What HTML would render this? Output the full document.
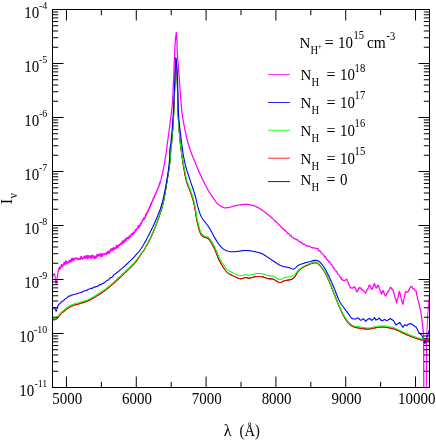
<!DOCTYPE html>
<html><head><meta charset="utf-8"><title>plot</title>
<style>html,body{margin:0;padding:0;background:#fff;}svg{display:block;}text{font-family:"Liberation Serif", serif;fill:#000;}</style>
</head><body>
<svg width="436" height="440" viewBox="0 0 436 440" style="will-change:transform">
<rect x="0" y="0" width="436" height="440" fill="#ffffff"/>
<g clip-path="url(#clip)">
<defs><clipPath id="clip"><rect x="52.50" y="9.50" width="377.00" height="378.00"/></clipPath></defs>
<polyline points="52.75,319.60 53.58,319.70 54.79,319.75 56.20,319.20 56.83,318.66 57.47,317.97 58.14,317.14 58.87,316.24 59.65,315.29 60.53,314.33 61.50,313.40 62.18,312.81 62.92,312.17 63.71,311.51 64.53,310.84 65.37,310.16 66.24,309.49 67.12,308.84 68.01,308.21 68.89,307.62 69.75,307.08 70.60,306.60 71.62,306.10 72.64,305.68 73.66,305.33 74.68,305.02 75.71,304.74 76.73,304.47 77.75,304.21 78.78,303.92 79.80,303.60 80.82,303.26 81.84,302.94 82.87,302.63 83.89,302.31 84.91,301.98 85.93,301.63 86.96,301.26 87.98,300.85 89.00,300.40 89.92,299.96 90.84,299.49 91.76,299.00 92.68,298.48 93.61,297.94 94.53,297.39 95.45,296.83 96.37,296.26 97.28,295.68 98.20,295.10 99.03,294.57 99.86,294.04 100.69,293.50 101.51,292.95 102.34,292.40 103.16,291.83 103.99,291.26 104.81,290.67 105.64,290.06 106.47,289.44 107.30,288.80 108.06,288.19 108.83,287.57 109.59,286.93 110.36,286.28 111.13,285.62 111.89,284.94 112.66,284.26 113.43,283.57 114.20,282.88 114.97,282.19 115.73,281.49 116.50,280.80 117.27,280.11 118.03,279.41 118.80,278.71 119.57,278.00 120.33,277.29 121.10,276.57 121.87,275.86 122.63,275.13 123.40,274.41 124.17,273.68 124.93,272.94 125.70,272.20 126.41,271.51 127.14,270.82 127.87,270.13 128.61,269.43 129.35,268.73 130.08,268.02 130.81,267.31 131.54,266.60 132.25,265.89 132.94,265.17 133.62,264.45 134.27,263.73 134.90,263.00 135.63,262.11 136.34,261.18 137.05,260.21 137.74,259.23 138.41,258.25 139.05,257.29 139.66,256.36 140.23,255.48 140.77,254.67 141.26,253.94 141.70,253.30 142.62,252.17 143.04,251.77 144.00,250.20 144.34,249.60 144.72,248.92 145.14,248.18 145.59,247.37 146.07,246.50 146.58,245.59 147.09,244.64 147.62,243.66 148.16,242.66 148.69,241.64 149.22,240.62 149.75,239.59 150.25,238.57 150.74,237.57 151.20,236.60 151.62,235.70 152.03,234.79 152.43,233.88 152.83,232.97 153.23,232.05 153.62,231.12 154.01,230.19 154.40,229.25 154.78,228.30 155.16,227.35 155.54,226.38 155.92,225.41 156.29,224.42 156.66,223.43 157.03,222.42 157.40,221.40 157.73,220.49 158.05,219.59 158.38,218.69 158.71,217.80 159.03,216.90 159.35,216.00 159.67,215.09 159.99,214.16 160.31,213.23 160.62,212.28 160.93,211.31 161.24,210.33 161.54,209.31 161.84,208.27 162.14,207.21 162.43,206.11 162.72,204.97 163.00,203.80 163.20,202.92 163.40,202.02 163.60,201.08 163.80,200.11 164.00,199.12 164.20,198.11 164.39,197.08 164.59,196.03 164.78,194.97 164.97,193.90 165.16,192.82 165.35,191.74 165.53,190.65 165.71,189.57 165.89,188.49 166.07,187.41 166.24,186.35 166.41,185.29 166.58,184.26 166.74,183.24 166.90,182.24 167.06,181.26 167.21,180.31 167.36,179.39 167.50,178.50 167.69,177.30 167.88,176.11 168.07,174.95 168.24,173.81 168.41,172.68 168.58,171.58 168.74,170.50 168.89,169.44 169.04,168.41 169.18,167.39 169.31,166.40 169.44,165.44 169.57,164.50 169.69,163.59 169.80,162.70 169.90,161.84 170.01,161.01 170.10,160.20 170.25,158.85 170.36,157.64 170.44,156.54 170.50,155.53 170.54,154.58 170.58,153.68 170.62,152.79 170.66,151.90 170.72,150.98 170.80,150.00 170.89,149.06 170.98,148.23 171.08,147.46 171.18,146.71 171.29,145.93 171.40,145.07 171.51,144.10 171.64,142.96 171.76,141.61 171.90,140.00 171.96,139.28 172.02,138.54 172.08,137.76 172.14,136.95 172.21,136.12 172.27,135.26 172.34,134.37 172.41,133.46 172.48,132.52 172.55,131.56 172.62,130.58 172.70,129.57 172.77,128.55 172.84,127.50 172.91,126.44 172.99,125.36 173.06,124.26 173.13,123.15 173.20,122.02 173.27,120.88 173.34,119.73 173.41,118.56 173.47,117.38 173.54,116.20 173.60,115.00 173.64,114.13 173.69,113.23 173.73,112.31 173.78,111.37 173.82,110.40 173.86,109.42 173.91,108.42 173.95,107.40 173.99,106.37 174.04,105.32 174.08,104.26 174.12,103.20 174.16,102.13 174.21,101.05 174.25,99.97 174.29,98.88 174.33,97.79 174.37,96.71 174.41,95.62 174.45,94.55 174.49,93.47 174.53,92.41 174.57,91.35 174.61,90.30 174.65,89.27 174.68,88.25 174.72,87.25 174.76,86.26 174.79,85.30 174.83,84.35 174.86,83.43 174.90,82.53 174.93,81.66 174.97,80.82 175.00,80.00 175.05,78.65 175.10,77.28 175.15,75.90 175.20,74.51 175.24,73.13 175.28,71.76 175.32,70.41 175.36,69.09 175.40,67.82 175.44,66.59 175.47,65.42 175.51,64.33 175.55,63.31 175.59,62.37 175.63,61.53 175.67,60.80 175.71,60.17 175.75,59.67 175.80,59.31 175.85,59.08 175.90,59.00 175.95,59.08 176.01,59.31 176.07,59.67 176.13,60.17 176.19,60.80 176.25,61.53 176.31,62.37 176.38,63.31 176.44,64.33 176.51,65.42 176.58,66.59 176.64,67.82 176.71,69.09 176.77,70.41 176.84,71.76 176.90,73.13 176.97,74.51 177.03,75.90 177.09,77.28 177.14,78.65 177.20,80.00 177.23,80.82 177.26,81.66 177.29,82.53 177.32,83.43 177.35,84.35 177.38,85.30 177.41,86.26 177.43,87.25 177.46,88.25 177.48,89.27 177.51,90.30 177.53,91.35 177.56,92.41 177.58,93.47 177.61,94.55 177.63,95.62 177.66,96.71 177.68,97.79 177.71,98.88 177.73,99.97 177.76,101.05 177.78,102.13 177.81,103.20 177.84,104.26 177.86,105.32 177.89,106.37 177.92,107.40 177.95,108.42 177.99,109.42 178.02,110.40 178.05,111.37 178.09,112.31 178.12,113.23 178.16,114.13 178.20,115.00 178.26,116.20 178.32,117.38 178.38,118.56 178.45,119.73 178.52,120.88 178.59,122.02 178.66,123.15 178.74,124.26 178.81,125.36 178.89,126.44 178.97,127.50 179.05,128.55 179.13,129.57 179.21,130.58 179.28,131.56 179.36,132.52 179.44,133.46 179.52,134.37 179.59,135.26 179.67,136.12 179.74,136.95 179.81,137.76 179.87,138.54 179.94,139.28 180.00,140.00 180.15,141.63 180.29,143.04 180.42,144.26 180.55,145.32 180.67,146.24 180.79,147.07 180.90,147.83 181.01,148.55 181.11,149.27 181.20,150.00 181.33,151.20 181.41,151.98 181.48,152.68 181.59,153.61 181.80,155.10 181.91,155.87 182.04,156.73 182.18,157.68 182.33,158.69 182.49,159.75 182.66,160.86 182.84,162.00 183.02,163.15 183.20,164.30 183.39,165.45 183.58,166.57 183.77,167.66 183.95,168.70 184.14,169.79 184.33,170.86 184.51,171.91 184.69,172.96 184.88,174.00 185.07,175.04 185.27,176.08 185.49,177.12 185.72,178.17 185.97,179.23 186.25,180.31 186.55,181.40 186.84,182.36 187.16,183.34 187.50,184.33 187.86,185.34 188.24,186.36 188.63,187.38 189.03,188.40 189.42,189.42 189.81,190.43 190.20,191.42 190.57,192.40 190.92,193.36 191.25,194.29 191.55,195.20 191.90,196.30 192.23,197.34 192.53,198.35 192.82,199.32 193.09,200.27 193.35,201.22 193.59,202.17 193.84,203.14 194.07,204.15 194.31,205.20 194.55,206.30 194.73,207.21 194.90,208.14 195.07,209.11 195.22,210.09 195.37,211.09 195.52,212.10 195.66,213.12 195.81,214.14 195.96,215.17 196.12,216.20 196.28,217.22 196.46,218.23 196.65,219.22 196.85,220.20 197.08,221.26 197.33,222.36 197.59,223.49 197.86,224.62 198.13,225.76 198.41,226.88 198.70,227.98 198.99,229.04 199.28,230.05 199.58,231.01 199.87,231.89 200.16,232.69 200.45,233.40 201.20,234.80 201.96,235.72 202.72,236.31 203.49,236.75 204.25,237.20 205.19,237.58 206.11,237.69 207.06,237.88 208.05,238.50 208.65,239.13 209.29,239.90 209.94,240.79 210.60,241.76 211.24,242.77 211.86,243.79 212.45,244.80 212.93,245.67 213.38,246.55 213.82,247.45 214.24,248.37 214.66,249.31 215.08,250.27 215.51,251.26 215.95,252.27 216.34,253.20 216.70,254.14 217.05,255.10 217.41,256.08 217.78,257.07 218.18,258.09 218.61,259.12 219.10,260.18 219.65,261.25 220.11,262.09 220.62,262.98 221.15,263.91 221.72,264.86 222.31,265.82 222.91,266.78 223.53,267.73 224.14,268.64 224.75,269.51 225.35,270.31 225.94,271.05 226.50,271.70 227.42,272.62 228.30,273.34 229.17,273.92 230.04,274.39 230.92,274.82 231.84,275.24 232.80,275.70 233.70,276.15 234.67,276.62 235.66,277.08 236.68,277.52 237.68,277.93 238.65,278.27 239.56,278.53 240.40,278.70 241.60,278.70 242.69,278.43 243.68,278.04 244.61,277.69 245.50,277.50 246.74,277.67 247.83,278.06 249.20,278.20 250.10,278.06 251.10,277.81 252.18,277.49 253.30,277.17 254.41,276.89 255.50,276.70 256.56,276.59 257.63,276.51 258.70,276.48 259.77,276.50 260.84,276.57 261.90,276.70 262.97,276.93 264.06,277.27 265.14,277.67 266.20,278.07 267.23,278.43 268.20,278.70 269.26,278.85 270.23,278.87 271.17,278.87 272.14,278.94 273.20,279.20 274.04,279.57 274.94,280.09 275.87,280.69 276.82,281.30 277.75,281.85 278.65,282.27 279.50,282.50 280.58,282.46 281.56,282.12 282.52,281.62 283.52,281.10 284.60,280.70 285.63,280.48 286.74,280.30 287.90,280.14 289.03,279.97 290.09,279.76 291.00,279.50 292.08,279.05 292.93,278.55 293.69,277.92 294.50,277.08 295.08,276.34 295.67,275.45 296.25,274.49 296.83,273.51 297.42,272.58 298.00,271.77 298.87,270.77 299.74,269.89 300.62,269.11 301.50,268.40 302.36,267.79 303.20,267.28 304.09,266.81 305.10,266.30 306.03,265.84 307.04,265.35 308.10,264.86 309.16,264.40 310.20,264.00 311.23,263.62 312.26,263.24 313.29,262.93 314.28,262.73 315.20,262.70 316.20,262.89 317.09,263.27 317.99,263.90 319.00,264.80 319.58,265.36 320.19,265.99 320.82,266.69 321.48,267.45 322.14,268.27 322.80,269.16 323.46,270.10 324.10,271.10 324.56,271.87 325.02,272.67 325.47,273.51 325.93,274.39 326.38,275.29 326.83,276.23 327.29,277.18 327.74,278.16 328.19,279.16 328.65,280.17 329.10,281.20 329.48,282.09 329.87,283.00 330.25,283.94 330.64,284.89 331.02,285.86 331.40,286.85 331.79,287.84 332.17,288.84 332.55,289.84 332.94,290.84 333.33,291.84 333.71,292.82 334.10,293.80 334.49,294.77 334.88,295.76 335.27,296.75 335.67,297.74 336.06,298.74 336.45,299.73 336.85,300.72 337.24,301.70 337.63,302.67 338.03,303.63 338.42,304.57 338.81,305.50 339.20,306.40 339.66,307.45 340.11,308.49 340.57,309.52 341.02,310.54 341.47,311.53 341.93,312.51 342.38,313.46 342.83,314.38 343.29,315.28 343.74,316.13 344.20,316.95 344.83,318.02 345.47,319.04 346.11,320.01 346.75,320.92 347.39,321.77 348.03,322.56 348.67,323.29 349.30,323.95 350.29,324.85 351.24,325.56 352.21,326.13 353.22,326.61 354.30,327.05 355.26,327.36 356.26,327.61 357.29,327.79 358.36,327.95 359.46,328.10 360.60,328.25 361.62,328.40 362.68,328.57 363.77,328.73 364.87,328.88 365.99,328.99 367.10,329.05 368.20,329.05 369.29,328.97 370.37,328.81 371.46,328.61 372.55,328.38 373.64,328.14 374.72,327.92 375.80,327.75 376.88,327.60 377.95,327.45 379.02,327.31 380.08,327.19 381.15,327.09 382.22,327.05 383.30,327.05 384.40,327.12 385.54,327.25 386.68,327.42 387.81,327.62 388.91,327.83 389.94,328.05 390.90,328.25 392.01,328.49 392.92,328.69 393.78,328.93 394.76,329.27 396.00,329.75 396.75,330.07 397.58,330.44 398.46,330.85 399.39,331.30 400.35,331.76 401.33,332.24 402.32,332.72 403.30,333.18 404.27,333.63 405.20,334.05 406.21,334.49 407.23,334.93 408.24,335.37 409.25,335.80 410.25,336.21 411.26,336.62 412.27,337.01 413.29,337.39 414.30,337.75 415.33,338.10 416.37,338.45 417.42,338.78 418.48,339.11 419.52,339.41 420.56,339.69 421.57,339.95 422.55,340.17 423.50,340.35 424.73,340.52 425.99,340.61 427.23,340.66 428.40,340.66 429.45,340.65 430.34,340.64 431.00,340.65" fill="none" stroke="#000000" stroke-width="1.00" stroke-linejoin="round" stroke-linecap="butt" />
<polyline points="52.75,319.60 53.58,319.70 54.79,319.75 56.20,319.20 56.83,318.66 57.47,317.97 58.14,317.14 58.87,316.24 59.65,315.29 60.53,314.33 61.50,313.40 62.18,312.81 62.92,312.17 63.71,311.51 64.53,310.84 65.37,310.16 66.24,309.49 67.12,308.84 68.01,308.21 68.89,307.62 69.75,307.08 70.60,306.60 71.62,306.10 72.64,305.68 73.66,305.33 74.68,305.02 75.71,304.74 76.73,304.47 77.75,304.21 78.78,303.92 79.80,303.60 80.82,303.26 81.84,302.94 82.87,302.63 83.89,302.31 84.91,301.98 85.93,301.63 86.96,301.26 87.98,300.85 89.00,300.40 89.92,299.96 90.84,299.49 91.76,299.00 92.68,298.48 93.61,297.94 94.53,297.39 95.45,296.83 96.37,296.26 97.28,295.68 98.20,295.10 99.03,294.57 99.86,294.04 100.69,293.50 101.51,292.95 102.34,292.40 103.16,291.83 103.99,291.26 104.81,290.67 105.64,290.06 106.47,289.44 107.30,288.80 108.06,288.19 108.83,287.57 109.59,286.93 110.36,286.28 111.13,285.62 111.89,284.94 112.66,284.26 113.43,283.57 114.20,282.88 114.97,282.19 115.73,281.49 116.50,280.80 117.27,280.11 118.03,279.41 118.80,278.71 119.57,278.00 120.33,277.29 121.10,276.57 121.87,275.86 122.63,275.13 123.40,274.41 124.17,273.68 124.93,272.94 125.70,272.20 126.41,271.51 127.14,270.82 127.87,270.13 128.61,269.43 129.35,268.73 130.08,268.02 130.81,267.31 131.54,266.60 132.25,265.89 132.94,265.17 133.62,264.45 134.27,263.73 134.90,263.00 135.63,262.11 136.34,261.18 137.05,260.21 137.74,259.23 138.41,258.25 139.05,257.29 139.66,256.36 140.23,255.48 140.77,254.67 141.26,253.94 141.70,253.30 142.62,252.17 143.04,251.77 144.00,250.20 144.34,249.60 144.72,248.92 145.14,248.18 145.59,247.37 146.07,246.50 146.58,245.59 147.09,244.64 147.62,243.66 148.16,242.66 148.69,241.64 149.22,240.62 149.75,239.59 150.25,238.57 150.74,237.57 151.20,236.60 151.62,235.70 152.03,234.79 152.43,233.88 152.83,232.97 153.23,232.05 153.62,231.12 154.01,230.19 154.40,229.25 154.78,228.30 155.16,227.35 155.54,226.38 155.92,225.41 156.29,224.42 156.66,223.43 157.03,222.42 157.40,221.40 157.73,220.49 158.05,219.59 158.38,218.69 158.71,217.80 159.03,216.90 159.35,216.00 159.67,215.09 159.99,214.16 160.31,213.23 160.62,212.28 160.93,211.31 161.24,210.33 161.54,209.31 161.84,208.27 162.14,207.21 162.43,206.11 162.72,204.97 163.00,203.80 163.20,202.92 163.40,202.02 163.60,201.08 163.80,200.11 164.00,199.12 164.20,198.11 164.39,197.08 164.59,196.03 164.78,194.97 164.97,193.90 165.16,192.82 165.35,191.74 165.53,190.65 165.71,189.57 165.89,188.49 166.07,187.41 166.24,186.35 166.41,185.29 166.58,184.26 166.74,183.24 166.90,182.24 167.06,181.26 167.21,180.31 167.36,179.39 167.50,178.50 167.69,177.30 167.88,176.11 168.07,174.95 168.24,173.81 168.41,172.68 168.58,171.58 168.74,170.50 168.89,169.44 169.04,168.41 169.18,167.39 169.31,166.40 169.44,165.44 169.57,164.50 169.69,163.59 169.80,162.70 169.90,161.84 170.01,161.01 170.10,160.20 170.25,158.85 170.36,157.64 170.44,156.54 170.50,155.53 170.54,154.58 170.58,153.68 170.62,152.79 170.66,151.90 170.72,150.98 170.80,150.00 170.89,149.06 170.98,148.23 171.08,147.46 171.18,146.71 171.29,145.93 171.40,145.07 171.51,144.10 171.64,142.96 171.76,141.61 171.90,140.00 171.96,139.28 172.02,138.54 172.08,137.76 172.14,136.95 172.21,136.12 172.27,135.26 172.34,134.37 172.41,133.46 172.48,132.52 172.55,131.56 172.62,130.58 172.70,129.57 172.77,128.55 172.84,127.50 172.91,126.44 172.99,125.36 173.06,124.26 173.13,123.15 173.20,122.02 173.27,120.88 173.34,119.73 173.41,118.56 173.47,117.38 173.54,116.20 173.60,115.00 173.64,114.13 173.69,113.23 173.73,112.31 173.78,111.37 173.82,110.40 173.86,109.42 173.91,108.42 173.95,107.40 173.99,106.37 174.04,105.32 174.08,104.26 174.12,103.20 174.16,102.13 174.21,101.05 174.25,99.97 174.29,98.88 174.33,97.79 174.37,96.71 174.41,95.62 174.45,94.55 174.49,93.47 174.53,92.41 174.57,91.35 174.61,90.30 174.65,89.27 174.68,88.25 174.72,87.25 174.76,86.26 174.79,85.30 174.83,84.35 174.86,83.43 174.90,82.53 174.93,81.66 174.97,80.82 175.00,80.00 175.05,78.65 175.10,77.28 175.15,75.90 175.20,74.51 175.24,73.13 175.28,71.76 175.32,70.41 175.36,69.09 175.40,67.82 175.44,66.59 175.47,65.42 175.51,64.33 175.55,63.31 175.59,62.37 175.63,61.53 175.67,60.80 175.71,60.17 175.75,59.67 175.80,59.31 175.85,59.08 175.90,59.00 175.95,59.08 176.01,59.31 176.07,59.67 176.13,60.17 176.19,60.80 176.25,61.53 176.31,62.37 176.38,63.31 176.44,64.33 176.51,65.42 176.58,66.59 176.64,67.82 176.71,69.09 176.77,70.41 176.84,71.76 176.90,73.13 176.97,74.51 177.03,75.90 177.09,77.28 177.14,78.65 177.20,80.00 177.23,80.82 177.26,81.66 177.29,82.53 177.32,83.43 177.35,84.35 177.38,85.30 177.41,86.26 177.43,87.25 177.46,88.25 177.48,89.27 177.51,90.30 177.53,91.35 177.56,92.41 177.58,93.47 177.61,94.55 177.63,95.62 177.66,96.71 177.68,97.79 177.71,98.88 177.73,99.97 177.76,101.05 177.78,102.13 177.81,103.20 177.84,104.26 177.86,105.32 177.89,106.37 177.92,107.40 177.95,108.42 177.99,109.42 178.02,110.40 178.05,111.37 178.09,112.31 178.12,113.23 178.16,114.13 178.20,115.00 178.26,116.20 178.32,117.38 178.38,118.56 178.45,119.73 178.52,120.88 178.59,122.02 178.66,123.15 178.74,124.26 178.81,125.36 178.89,126.44 178.97,127.50 179.05,128.55 179.13,129.57 179.21,130.58 179.28,131.56 179.36,132.52 179.44,133.46 179.52,134.37 179.59,135.26 179.67,136.12 179.74,136.95 179.81,137.76 179.87,138.54 179.94,139.28 180.00,140.00 180.15,141.63 180.29,143.04 180.42,144.26 180.55,145.32 180.67,146.24 180.79,147.07 180.90,147.83 181.01,148.55 181.11,149.27 181.20,150.00 181.33,151.20 181.41,151.98 181.48,152.68 181.59,153.61 181.80,155.10 181.91,155.87 182.04,156.73 182.18,157.68 182.33,158.69 182.49,159.75 182.66,160.86 182.84,162.00 183.02,163.15 183.20,164.30 183.39,165.45 183.58,166.57 183.77,167.66 183.95,168.70 184.14,169.79 184.33,170.86 184.51,171.91 184.69,172.96 184.88,174.00 185.07,175.04 185.27,176.08 185.49,177.12 185.72,178.17 185.97,179.23 186.25,180.31 186.55,181.40 186.84,182.36 187.16,183.34 187.50,184.33 187.86,185.34 188.24,186.36 188.63,187.38 189.03,188.40 189.42,189.42 189.81,190.43 190.20,191.42 190.57,192.40 190.92,193.36 191.25,194.29 191.55,195.20 191.90,196.30 192.23,197.34 192.53,198.35 192.82,199.32 193.09,200.27 193.35,201.22 193.59,202.17 193.84,203.14 194.07,204.15 194.31,205.20 194.55,206.30 194.73,207.21 194.90,208.14 195.07,209.11 195.22,210.09 195.37,211.09 195.52,212.10 195.66,213.12 195.81,214.14 195.96,215.17 196.12,216.20 196.28,217.22 196.46,218.23 196.65,219.22 196.85,220.20 197.08,221.26 197.33,222.36 197.59,223.49 197.86,224.62 198.13,225.76 198.41,226.88 198.70,227.98 198.99,229.04 199.28,230.05 199.58,231.01 199.87,231.89 200.16,232.69 200.45,233.40 201.20,234.80 201.96,235.72 202.72,236.31 203.49,236.75 204.25,237.20 205.19,237.58 206.11,237.69 207.06,237.88 208.05,238.50 208.65,239.13 209.29,239.90 209.94,240.79 210.60,241.76 211.24,242.77 211.86,243.79 212.45,244.80 212.93,245.67 213.38,246.55 213.82,247.45 214.24,248.37 214.66,249.31 215.08,250.27 215.51,251.26 215.95,252.27 216.34,253.20 216.70,254.14 217.05,255.10 217.41,256.08 217.78,257.07 218.18,258.09 218.61,259.12 219.10,260.18 219.65,261.25 220.11,262.09 220.62,262.98 221.15,263.91 221.72,264.86 222.31,265.82 222.91,266.78 223.53,267.73 224.14,268.64 224.75,269.51 225.35,270.31 225.94,271.05 226.50,271.70 227.42,272.62 228.30,273.34 229.17,273.92 230.04,274.39 230.92,274.82 231.84,275.24 232.80,275.70 233.70,276.15 234.67,276.62 235.66,277.08 236.68,277.52 237.68,277.93 238.65,278.27 239.56,278.53 240.40,278.70 241.60,278.70 242.69,278.43 243.68,278.04 244.61,277.69 245.50,277.50 246.74,277.67 247.83,278.06 249.20,278.20 250.10,278.06 251.10,277.81 252.18,277.49 253.30,277.17 254.41,276.89 255.50,276.70 256.56,276.59 257.63,276.51 258.70,276.48 259.77,276.50 260.84,276.57 261.90,276.70 262.97,276.93 264.06,277.27 265.14,277.67 266.20,278.07 267.23,278.43 268.20,278.70 269.26,278.85 270.23,278.87 271.17,278.87 272.14,278.94 273.20,279.20 274.04,279.57 274.94,280.09 275.87,280.69 276.82,281.30 277.75,281.85 278.65,282.27 279.50,282.50 280.58,282.46 281.56,282.12 282.52,281.62 283.52,281.10 284.60,280.70 285.63,280.48 286.74,280.30 287.90,280.14 289.03,279.97 290.09,279.76 291.00,279.50 292.08,279.05 292.93,278.55 293.69,277.92 294.50,277.08 295.08,276.34 295.67,275.45 296.25,274.49 296.83,273.51 297.42,272.58 298.00,271.77 298.87,270.77 299.74,269.89 300.62,269.11 301.50,268.40 302.36,267.79 303.20,267.28 304.09,266.81 305.10,266.30 306.03,265.84 307.04,265.35 308.10,264.86 309.16,264.40 310.20,264.00 311.23,263.62 312.26,263.24 313.29,262.93 314.28,262.73 315.20,262.70 316.20,262.89 317.09,263.27 317.99,263.90 319.00,264.80 319.58,265.36 320.19,265.99 320.82,266.69 321.48,267.45 322.14,268.27 322.80,269.16 323.46,270.10 324.10,271.10 324.56,271.87 325.02,272.67 325.47,273.51 325.93,274.39 326.38,275.29 326.83,276.23 327.29,277.18 327.74,278.16 328.19,279.16 328.65,280.17 329.10,281.20 329.48,282.09 329.87,283.00 330.25,283.94 330.64,284.89 331.02,285.86 331.40,286.85 331.79,287.84 332.17,288.84 332.55,289.84 332.94,290.84 333.33,291.84 333.71,292.82 334.10,293.80 334.49,294.77 334.88,295.76 335.27,296.75 335.67,297.74 336.06,298.74 336.45,299.73 336.85,300.72 337.24,301.70 337.63,302.67 338.03,303.63 338.42,304.57 338.81,305.50 339.20,306.40 339.66,307.45 340.11,308.49 340.57,309.52 341.02,310.54 341.47,311.53 341.93,312.51 342.38,313.46 342.83,314.38 343.29,315.28 343.74,316.13 344.20,316.95 344.83,318.02 345.47,319.04 346.11,320.01 346.75,320.92 347.39,321.77 348.03,322.56 348.67,323.29 349.30,323.95 350.29,324.85 351.24,325.56 352.21,326.13 353.22,326.61 354.30,327.05 355.26,327.36 356.26,327.61 357.29,327.79 358.36,327.95 359.46,328.10 360.60,328.25 361.62,328.40 362.68,328.57 363.77,328.73 364.87,328.88 365.99,328.99 367.10,329.05 368.20,329.05 369.29,328.97 370.37,328.81 371.46,328.61 372.55,328.38 373.64,328.14 374.72,327.92 375.80,327.75 376.88,327.60 377.95,327.45 379.02,327.31 380.08,327.19 381.15,327.09 382.22,327.05 383.30,327.05 384.40,327.12 385.54,327.25 386.68,327.42 387.81,327.62 388.91,327.83 389.94,328.05 390.90,328.25 392.01,328.49 392.92,328.69 393.78,328.93 394.76,329.27 396.00,329.75 396.75,330.07 397.58,330.44 398.46,330.85 399.39,331.30 400.35,331.76 401.33,332.24 402.32,332.72 403.30,333.18 404.27,333.63 405.20,334.05 406.21,334.49 407.23,334.93 408.24,335.37 409.25,335.80 410.25,336.21 411.26,336.62 412.27,337.01 413.29,337.39 414.30,337.75 415.33,338.10 416.37,338.45 417.42,338.78 418.48,339.11 419.52,339.41 420.56,339.69 421.57,339.95 422.55,340.17 423.50,340.35 424.73,340.52 425.99,340.61 427.23,340.66 428.40,340.66 429.45,340.65 430.34,340.64 431.00,340.65" fill="none" stroke="#ff0000" stroke-width="1.05" stroke-linejoin="round" stroke-linecap="butt" />
<polyline points="52.75,318.40 53.58,318.50 54.79,318.55 56.20,318.00 56.83,317.46 57.47,316.77 58.14,315.94 58.87,315.04 59.65,314.09 60.53,313.13 61.50,312.20 62.18,311.61 62.92,310.97 63.71,310.31 64.53,309.64 65.37,308.96 66.24,308.29 67.12,307.64 68.01,307.01 68.89,306.42 69.75,305.88 70.60,305.40 71.62,304.90 72.64,304.48 73.66,304.13 74.68,303.82 75.71,303.54 76.73,303.27 77.75,303.01 78.78,302.72 79.80,302.40 80.82,302.06 81.84,301.74 82.87,301.43 83.89,301.11 84.91,300.78 85.93,300.43 86.96,300.06 87.98,299.65 89.00,299.20 89.92,298.76 90.84,298.29 91.76,297.80 92.68,297.28 93.61,296.74 94.53,296.19 95.45,295.63 96.37,295.06 97.28,294.48 98.20,293.90 99.03,293.37 99.86,292.84 100.69,292.30 101.51,291.75 102.34,291.20 103.16,290.63 103.99,290.06 104.81,289.47 105.64,288.86 106.47,288.24 107.30,287.60 108.06,286.99 108.83,286.37 109.59,285.73 110.36,285.08 111.13,284.42 111.89,283.74 112.66,283.06 113.43,282.37 114.20,281.68 114.97,280.99 115.73,280.29 116.50,279.60 117.27,278.91 118.03,278.21 118.80,277.51 119.57,276.80 120.33,276.09 121.10,275.38 121.87,274.66 122.63,273.93 123.40,273.21 124.17,272.48 124.93,271.74 125.70,271.00 126.41,270.31 127.14,269.62 127.87,268.92 128.61,268.21 129.35,267.51 130.08,266.79 130.81,266.08 131.54,265.37 132.25,264.65 132.94,263.94 133.62,263.22 134.27,262.51 134.90,261.80 135.63,260.94 136.34,260.04 137.05,259.13 137.74,258.20 138.41,257.27 139.05,256.37 139.66,255.50 140.23,254.67 140.77,253.90 141.26,253.21 141.70,252.60 142.62,251.50 143.04,251.09 144.00,249.50 144.34,248.90 144.72,248.22 145.14,247.48 145.59,246.67 146.07,245.80 146.58,244.89 147.09,243.94 147.62,242.96 148.16,241.96 148.69,240.94 149.22,239.92 149.75,238.89 150.25,237.87 150.74,236.87 151.20,235.90 151.62,235.00 152.03,234.09 152.43,233.18 152.83,232.27 153.23,231.35 153.62,230.42 154.01,229.49 154.40,228.55 154.78,227.60 155.16,226.65 155.54,225.68 155.92,224.71 156.29,223.72 156.66,222.73 157.03,221.72 157.40,220.70 157.73,219.79 158.05,218.89 158.38,217.99 158.71,217.10 159.03,216.20 159.35,215.30 159.67,214.39 159.99,213.46 160.31,212.53 160.62,211.58 160.93,210.61 161.24,209.63 161.54,208.61 161.84,207.57 162.14,206.51 162.43,205.41 162.72,204.27 163.00,203.10 163.20,202.22 163.40,201.31 163.60,200.37 163.80,199.40 164.00,198.41 164.20,197.39 164.39,196.36 164.59,195.31 164.78,194.24 164.97,193.16 165.16,192.08 165.35,190.99 165.53,189.91 165.71,188.82 165.89,187.74 166.07,186.66 166.24,185.59 166.41,184.54 166.58,183.51 166.74,182.49 166.90,181.50 167.06,180.53 167.21,179.59 167.36,178.68 167.50,177.80 167.71,176.55 167.90,175.33 168.10,174.14 168.28,172.97 168.46,171.83 168.63,170.72 168.80,169.64 168.96,168.58 169.11,167.54 169.26,166.54 169.40,165.55 169.53,164.60 169.66,163.67 169.78,162.76 169.89,161.88 170.00,161.03 170.10,160.20 170.25,158.88 170.36,157.68 170.44,156.59 170.50,155.58 170.54,154.62 170.58,153.71 170.62,152.81 170.66,151.91 170.72,150.98 170.80,150.00 170.89,149.06 170.98,148.23 171.08,147.46 171.18,146.71 171.29,145.93 171.40,145.07 171.51,144.10 171.64,142.96 171.76,141.61 171.90,140.00 171.96,139.28 172.02,138.54 172.08,137.76 172.14,136.95 172.21,136.12 172.27,135.26 172.34,134.37 172.41,133.46 172.48,132.52 172.55,131.56 172.62,130.58 172.70,129.57 172.77,128.55 172.84,127.50 172.91,126.44 172.99,125.36 173.06,124.26 173.13,123.15 173.20,122.02 173.27,120.88 173.34,119.73 173.41,118.56 173.47,117.38 173.54,116.20 173.60,115.00 173.64,114.13 173.69,113.23 173.73,112.31 173.78,111.37 173.82,110.40 173.86,109.42 173.91,108.42 173.95,107.40 173.99,106.37 174.04,105.32 174.08,104.26 174.12,103.20 174.16,102.13 174.21,101.05 174.25,99.97 174.29,98.88 174.33,97.79 174.37,96.71 174.41,95.62 174.45,94.55 174.49,93.47 174.53,92.41 174.57,91.35 174.61,90.30 174.65,89.27 174.68,88.25 174.72,87.25 174.76,86.26 174.79,85.30 174.83,84.35 174.86,83.43 174.90,82.53 174.93,81.66 174.97,80.82 175.00,80.00 175.05,78.65 175.10,77.28 175.15,75.90 175.20,74.51 175.24,73.13 175.28,71.76 175.32,70.41 175.36,69.09 175.40,67.82 175.44,66.59 175.47,65.42 175.51,64.33 175.55,63.31 175.59,62.37 175.63,61.53 175.67,60.80 175.71,60.17 175.75,59.67 175.80,59.31 175.85,59.08 175.90,59.00 175.95,59.08 176.01,59.31 176.07,59.67 176.13,60.17 176.19,60.80 176.25,61.53 176.31,62.37 176.38,63.31 176.44,64.33 176.51,65.42 176.58,66.59 176.64,67.82 176.71,69.09 176.77,70.41 176.84,71.76 176.90,73.13 176.97,74.51 177.03,75.90 177.09,77.28 177.14,78.65 177.20,80.00 177.23,80.82 177.26,81.66 177.29,82.53 177.32,83.43 177.35,84.35 177.38,85.30 177.41,86.26 177.43,87.25 177.46,88.25 177.48,89.27 177.51,90.30 177.53,91.35 177.56,92.41 177.58,93.47 177.61,94.55 177.63,95.62 177.66,96.71 177.68,97.79 177.71,98.88 177.73,99.97 177.76,101.05 177.78,102.13 177.81,103.20 177.84,104.26 177.86,105.32 177.89,106.37 177.92,107.40 177.95,108.42 177.99,109.42 178.02,110.40 178.05,111.37 178.09,112.31 178.12,113.23 178.16,114.13 178.20,115.00 178.26,116.20 178.32,117.38 178.38,118.56 178.45,119.73 178.52,120.88 178.59,122.02 178.66,123.15 178.74,124.26 178.81,125.36 178.89,126.44 178.97,127.50 179.05,128.55 179.13,129.57 179.21,130.58 179.28,131.56 179.36,132.52 179.44,133.46 179.52,134.37 179.59,135.26 179.67,136.12 179.74,136.95 179.81,137.76 179.87,138.54 179.94,139.28 180.00,140.00 180.15,141.63 180.29,143.04 180.42,144.26 180.55,145.32 180.67,146.24 180.79,147.07 180.90,147.83 181.01,148.55 181.11,149.27 181.20,150.00 181.33,151.21 181.39,152.03 181.45,152.76 181.57,153.68 181.80,155.10 181.94,155.89 182.11,156.76 182.29,157.72 182.49,158.74 182.70,159.81 182.93,160.92 183.16,162.06 183.39,163.21 183.62,164.37 183.86,165.51 184.08,166.62 184.30,167.70 184.51,168.75 184.70,169.80 184.89,170.84 185.07,171.89 185.25,172.93 185.44,173.97 185.64,175.03 185.85,176.08 186.08,177.15 186.33,178.22 186.60,179.30 186.90,180.40 187.19,181.36 187.51,182.34 187.85,183.33 188.21,184.34 188.59,185.36 188.98,186.38 189.38,187.40 189.77,188.42 190.16,189.43 190.55,190.42 190.92,191.40 191.27,192.36 191.60,193.29 191.90,194.20 192.25,195.30 192.58,196.34 192.88,197.35 193.17,198.32 193.44,199.27 193.70,200.22 193.94,201.17 194.19,202.14 194.42,203.15 194.66,204.20 194.90,205.30 195.08,206.21 195.25,207.14 195.41,208.11 195.56,209.09 195.71,210.09 195.86,211.10 196.00,212.12 196.15,213.14 196.30,214.17 196.45,215.20 196.62,216.22 196.80,217.23 196.99,218.22 197.20,219.20 197.44,220.26 197.70,221.36 197.97,222.49 198.26,223.62 198.55,224.76 198.85,225.88 199.16,226.98 199.47,228.04 199.78,229.05 200.09,230.01 200.40,230.89 200.70,231.69 201.00,232.40 201.76,233.80 202.52,234.72 203.28,235.31 204.04,235.75 204.80,236.20 205.74,236.58 206.66,236.69 207.61,236.88 208.60,237.50 209.20,238.13 209.84,238.91 210.49,239.80 211.15,240.77 211.79,241.79 212.41,242.81 213.00,243.80 213.48,244.65 213.93,245.51 214.37,246.39 214.79,247.28 215.21,248.18 215.63,249.10 216.06,250.04 216.50,251.00 216.89,251.87 217.26,252.75 217.62,253.64 217.99,254.55 218.37,255.48 218.77,256.41 219.20,257.36 219.67,258.32 220.20,259.30 220.68,260.13 221.19,261.02 221.73,261.93 222.30,262.86 222.89,263.80 223.49,264.73 224.10,265.63 224.71,266.50 225.32,267.30 225.92,268.04 226.50,268.70 227.39,269.56 228.26,270.27 229.13,270.84 230.01,271.34 230.91,271.79 231.83,272.23 232.80,272.70 233.70,273.15 234.67,273.62 235.66,274.08 236.68,274.52 237.68,274.93 238.65,275.27 239.56,275.53 240.40,275.70 241.60,275.70 242.69,275.43 243.68,275.04 244.61,274.69 245.50,274.50 246.74,274.67 247.83,275.06 249.20,275.20 250.10,275.06 251.10,274.81 252.18,274.49 253.30,274.17 254.41,273.89 255.50,273.70 256.56,273.59 257.63,273.51 258.70,273.48 259.77,273.50 260.84,273.57 261.90,273.70 262.97,273.93 264.06,274.27 265.14,274.67 266.20,275.07 267.23,275.43 268.20,275.70 269.26,275.85 270.23,275.87 271.17,275.87 272.14,275.94 273.20,276.20 274.04,276.57 274.94,277.09 275.87,277.69 276.82,278.30 277.75,278.85 278.65,279.27 279.50,279.50 280.58,279.46 281.56,279.12 282.52,278.62 283.52,278.10 284.60,277.70 285.63,277.47 286.74,277.27 287.90,277.09 289.03,276.91 290.09,276.72 291.00,276.50 292.38,276.07 293.44,275.58 294.50,274.80 295.20,274.08 295.90,273.20 296.60,272.24 297.30,271.31 298.00,270.50 298.87,269.68 299.74,268.96 300.62,268.32 301.50,267.70 302.36,267.13 303.20,266.62 304.09,266.12 305.10,265.60 306.03,265.14 307.04,264.65 308.10,264.16 309.16,263.70 310.20,263.30 311.23,262.92 312.26,262.54 313.29,262.23 314.28,262.03 315.20,262.00 316.20,262.19 317.09,262.57 317.99,263.20 319.00,264.10 319.58,264.66 320.19,265.29 320.82,265.99 321.48,266.75 322.14,267.57 322.80,268.46 323.46,269.40 324.10,270.40 324.56,271.17 325.02,271.97 325.47,272.81 325.93,273.69 326.38,274.59 326.83,275.53 327.29,276.48 327.74,277.46 328.19,278.46 328.65,279.47 329.10,280.50 329.48,281.39 329.87,282.30 330.25,283.24 330.64,284.19 331.02,285.16 331.40,286.15 331.79,287.14 332.17,288.14 332.55,289.14 332.94,290.14 333.33,291.14 333.71,292.12 334.10,293.10 334.49,294.08 334.88,295.06 335.27,296.06 335.67,297.06 336.06,298.06 336.45,299.06 336.85,300.05 337.24,301.04 337.63,302.01 338.03,302.96 338.42,303.90 338.81,304.81 339.20,305.70 339.66,306.72 340.11,307.73 340.57,308.72 341.02,309.69 341.47,310.63 341.93,311.56 342.38,312.46 342.83,313.34 343.29,314.19 343.74,315.01 344.20,315.80 344.83,316.85 345.47,317.86 346.11,318.82 346.75,319.74 347.39,320.60 348.03,321.40 348.67,322.13 349.30,322.80 350.29,323.70 351.24,324.41 352.21,324.98 353.22,325.46 354.30,325.90 355.26,326.21 356.26,326.46 357.29,326.64 358.36,326.80 359.46,326.95 360.60,327.10 361.62,327.25 362.68,327.42 363.77,327.58 364.87,327.73 365.99,327.84 367.10,327.90 368.20,327.90 369.29,327.82 370.37,327.66 371.46,327.46 372.55,327.23 373.64,326.99 374.72,326.77 375.80,326.60 376.88,326.45 377.95,326.30 379.02,326.16 380.08,326.04 381.15,325.94 382.22,325.90 383.30,325.90 384.40,325.97 385.54,326.10 386.68,326.27 387.81,326.47 388.91,326.68 389.94,326.90 390.90,327.10 392.01,327.34 392.92,327.54 393.78,327.78 394.76,328.12 396.00,328.60 396.75,328.92 397.58,329.29 398.46,329.70 399.39,330.15 400.35,330.61 401.33,331.09 402.32,331.57 403.30,332.03 404.27,332.48 405.20,332.90 406.21,333.34 407.23,333.78 408.24,334.22 409.25,334.65 410.25,335.06 411.26,335.47 412.27,335.86 413.29,336.24 414.30,336.60 415.33,336.95 416.37,337.30 417.42,337.63 418.48,337.96 419.52,338.26 420.56,338.54 421.57,338.80 422.55,339.02 423.50,339.20 424.73,339.37 425.99,339.46 427.23,339.51 428.40,339.51 429.45,339.50 430.34,339.49 431.00,339.50" fill="none" stroke="#00ff00" stroke-width="1.05" stroke-linejoin="round" stroke-linecap="butt" />
<polyline points="52.75,308.80 53.52,307.93 54.50,307.50 55.09,308.62 55.66,310.29 56.20,311.10 56.54,310.59 56.85,309.45 57.16,308.11 57.50,307.00 57.93,306.02 58.40,305.18 59.20,304.20 59.77,303.60 60.44,303.20 61.18,302.15 62.00,301.22 62.87,301.22 63.80,300.32 64.53,299.42 65.29,298.85 66.08,298.42 66.91,297.90 67.78,296.95 68.68,296.18 69.62,295.87 70.60,295.98 71.52,294.99 72.48,295.00 73.49,294.47 74.52,294.24 75.58,293.97 76.64,293.97 77.71,293.48 78.76,293.06 79.80,292.81 80.82,292.49 81.84,292.41 82.87,291.54 83.89,291.06 84.91,291.02 85.93,290.52 86.96,290.36 87.98,289.27 89.00,289.20 90.02,288.81 91.05,288.08 92.07,288.67 93.09,287.58 94.12,287.12 95.14,287.14 96.16,286.45 97.18,286.49 98.20,285.75 99.11,285.07 100.02,284.53 100.93,284.72 101.84,283.76 102.75,283.74 103.66,282.87 104.57,282.77 105.48,281.55 106.39,280.88 107.30,280.27 108.13,280.21 108.97,279.40 109.80,278.46 110.64,277.53 111.48,277.43 112.31,277.02 113.15,275.93 113.99,274.63 114.83,273.94 115.66,273.70 116.50,273.00 117.27,272.36 118.03,271.73 118.80,271.10 119.57,270.47 120.33,269.84 121.10,269.20 121.87,268.56 122.63,267.91 123.40,267.25 124.17,266.58 124.93,265.90 125.70,265.20 126.48,264.48 127.27,263.74 128.07,262.97 128.88,262.20 129.69,261.41 130.49,260.62 131.29,259.83 132.06,259.05 132.82,258.28 133.55,257.53 134.24,256.80 134.90,256.10 135.71,255.23 136.45,254.44 137.14,253.70 137.79,252.97 138.42,252.25 139.04,251.49 139.66,250.68 140.31,249.79 141.00,248.80 141.49,248.06 141.99,247.29 142.48,246.50 142.98,245.68 143.48,244.83 143.98,243.96 144.49,243.07 145.01,242.14 145.53,241.19 146.06,240.21 146.60,239.20 147.14,238.17 147.70,237.10 148.11,236.31 148.53,235.49 148.96,234.65 149.40,233.79 149.85,232.92 150.30,232.03 150.75,231.12 151.21,230.20 151.66,229.27 152.12,228.33 152.57,227.38 153.03,226.43 153.47,225.47 153.92,224.52 154.35,223.56 154.78,222.60 155.19,221.65 155.60,220.70 156.00,219.76 156.39,218.84 156.78,217.93 157.17,217.02 157.55,216.11 157.92,215.21 158.29,214.30 158.66,213.38 159.02,212.46 159.38,211.52 159.74,210.56 160.09,209.58 160.43,208.58 160.78,207.55 161.11,206.49 161.45,205.40 161.78,204.27 162.10,203.10 162.33,202.22 162.56,201.31 162.79,200.37 163.03,199.40 163.25,198.41 163.48,197.39 163.71,196.36 163.93,195.31 164.16,194.24 164.38,193.16 164.59,192.08 164.81,190.99 165.02,189.91 165.23,188.82 165.43,187.74 165.63,186.66 165.82,185.59 166.01,184.54 166.20,183.51 166.38,182.49 166.56,181.50 166.73,180.53 166.89,179.59 167.05,178.68 167.20,177.80 167.41,176.55 167.61,175.33 167.80,174.14 167.98,172.97 168.14,171.83 168.30,170.72 168.45,169.64 168.58,168.58 168.71,167.54 168.84,166.54 168.95,165.55 169.06,164.60 169.16,163.67 169.25,162.76 169.34,161.88 169.42,161.03 169.50,160.20 169.61,158.88 169.67,157.68 169.70,156.59 169.71,155.58 169.71,154.62 169.70,153.71 169.69,152.81 169.70,151.91 169.73,150.98 169.80,150.00 169.89,149.06 170.00,148.23 170.12,147.46 170.25,146.71 170.39,145.93 170.54,145.07 170.70,144.10 170.86,142.96 171.03,141.61 171.20,140.00 171.27,139.28 171.34,138.54 171.41,137.76 171.49,136.95 171.57,136.12 171.65,135.26 171.73,134.37 171.81,133.46 171.89,132.52 171.98,131.56 172.06,130.58 172.15,129.57 172.23,128.55 172.32,127.50 172.40,126.44 172.48,125.36 172.57,124.26 172.65,123.15 172.73,122.02 172.82,120.88 172.90,119.73 172.97,118.56 173.05,117.38 173.13,116.20 173.20,115.00 173.25,114.13 173.30,113.23 173.35,112.32 173.40,111.38 173.45,110.42 173.51,109.44 173.56,108.44 173.61,107.43 173.65,106.40 173.70,105.36 173.75,104.32 173.80,103.26 173.85,102.19 173.90,101.12 173.95,100.04 173.99,98.96 174.04,97.88 174.09,96.80 174.13,95.73 174.18,94.65 174.22,93.58 174.27,92.52 174.31,91.46 174.36,90.42 174.40,89.38 174.44,88.36 174.48,87.35 174.52,86.36 174.57,85.39 174.61,84.43 174.65,83.50 174.69,82.59 174.72,81.70 174.76,80.84 174.80,80.00 174.86,78.67 174.91,77.32 174.96,75.93 175.01,74.54 175.05,73.14 175.10,71.74 175.14,70.36 175.18,69.00 175.22,67.68 175.26,66.39 175.29,65.16 175.33,63.98 175.37,62.87 175.41,61.84 175.45,60.90 175.49,60.05 175.54,59.31 175.58,58.68 175.63,58.18 175.69,57.81 175.74,57.58 175.80,57.50 175.86,57.58 175.93,57.81 176.00,58.18 176.07,58.68 176.15,59.31 176.23,60.05 176.31,60.90 176.39,61.84 176.48,62.87 176.56,63.98 176.64,65.16 176.73,66.39 176.81,67.68 176.90,69.00 176.98,70.36 177.06,71.74 177.14,73.14 177.22,74.54 177.29,75.93 177.37,77.32 177.43,78.67 177.50,80.00 177.54,80.84 177.58,81.70 177.61,82.59 177.64,83.50 177.67,84.43 177.70,85.39 177.73,86.36 177.76,87.35 177.79,88.36 177.81,89.38 177.84,90.42 177.86,91.46 177.88,92.52 177.91,93.58 177.93,94.65 177.95,95.73 177.98,96.80 178.00,97.88 178.02,98.96 178.05,100.04 178.07,101.12 178.10,102.19 178.13,103.26 178.16,104.32 178.19,105.36 178.22,106.40 178.25,107.43 178.29,108.44 178.32,109.44 178.36,110.42 178.41,111.38 178.45,112.32 178.50,113.23 178.55,114.13 178.60,115.00 178.68,116.20 178.77,117.38 178.86,118.56 178.96,119.73 179.06,120.88 179.17,122.02 179.28,123.15 179.39,124.26 179.51,125.36 179.63,126.44 179.75,127.50 179.88,128.55 180.00,129.57 180.12,130.58 180.24,131.56 180.36,132.52 180.48,133.46 180.60,134.37 180.71,135.26 180.82,136.12 180.93,136.95 181.03,137.76 181.13,138.54 181.22,139.28 181.30,140.00 181.49,141.63 181.66,143.04 181.81,144.26 181.95,145.32 182.08,146.24 182.19,147.07 182.30,147.83 182.40,148.55 182.50,149.27 182.60,150.00 182.74,151.21 182.82,152.03 182.90,152.76 183.04,153.68 183.30,155.10 183.45,155.88 183.63,156.75 183.81,157.69 184.01,158.70 184.23,159.75 184.46,160.85 184.71,161.98 184.96,163.13 185.23,164.28 185.51,165.44 185.80,166.58 186.10,167.70 186.37,168.65 186.65,169.61 186.95,170.57 187.25,171.55 187.57,172.53 187.89,173.51 188.22,174.51 188.56,175.50 188.90,176.51 189.24,177.52 189.59,178.53 189.93,179.55 190.27,180.57 190.60,181.60 190.92,182.57 191.24,183.57 191.58,184.58 191.92,185.61 192.26,186.65 192.61,187.69 192.95,188.73 193.30,189.77 193.63,190.79 193.96,191.81 194.28,192.80 194.58,193.77 194.87,194.72 195.15,195.63 195.40,196.50 195.74,197.74 196.03,198.92 196.28,200.04 196.51,201.11 196.72,202.15 196.92,203.16 197.13,204.17 197.36,205.17 197.61,206.17 197.90,207.20 198.21,208.24 198.51,209.27 198.82,210.29 199.14,211.31 199.47,212.32 199.82,213.33 200.21,214.33 200.63,215.33 201.09,216.32 201.60,217.30 202.12,218.18 202.68,219.04 203.29,219.89 203.93,220.72 204.60,221.56 205.28,222.39 205.97,223.24 206.65,224.10 207.33,224.97 207.98,225.87 208.60,226.80 209.15,227.69 209.70,228.62 210.25,229.59 210.80,230.57 211.34,231.57 211.87,232.57 212.40,233.56 212.91,234.54 213.43,235.49 213.93,236.41 214.42,237.28 214.90,238.10 215.52,239.12 216.12,240.10 216.69,241.03 217.25,241.91 217.81,242.75 218.35,243.55 218.90,244.30 219.44,245.02 220.00,245.70 220.81,246.64 221.57,247.47 222.33,248.21 223.13,248.87 224.01,249.47 225.00,250.00 225.81,250.37 226.64,250.70 227.50,250.99 228.42,251.25 229.39,251.46 230.44,251.63 231.57,251.74 232.80,251.80 233.70,251.79 234.66,251.73 235.69,251.63 236.77,251.50 237.88,251.35 239.01,251.18 240.15,251.01 241.29,250.86 242.40,250.71 243.48,250.60 244.52,250.53 245.50,250.50 246.62,250.52 247.71,250.57 248.77,250.66 249.81,250.78 250.82,250.91 251.80,251.07 252.76,251.24 253.70,251.42 254.61,251.61 255.50,251.80 256.56,252.04 257.57,252.28 258.53,252.54 259.45,252.82 260.36,253.13 261.26,253.47 262.17,253.86 263.10,254.30 263.93,254.74 264.74,255.22 265.54,255.73 266.34,256.28 267.15,256.85 267.98,257.44 268.84,258.05 269.75,258.67 270.70,259.30 271.53,259.84 272.42,260.43 273.34,261.05 274.30,261.68 275.27,262.33 276.24,262.97 277.21,263.59 278.17,264.17 279.09,264.71 279.97,265.19 280.80,265.60 282.03,266.10 283.20,266.45 284.31,266.70 285.38,266.88 286.39,267.03 287.37,267.19 288.30,267.40 289.51,267.82 290.59,268.31 291.61,268.76 292.59,269.03 293.60,269.00 294.43,268.66 295.23,268.08 296.03,267.34 296.83,266.56 297.68,265.81 298.60,265.20 299.61,264.72 300.71,264.29 301.84,263.90 302.98,263.54 304.08,263.21 305.10,262.90 306.21,262.56 307.25,262.27 308.23,262.00 309.21,261.75 310.20,261.50 311.23,261.21 312.26,260.89 313.29,260.60 314.28,260.38 315.20,260.30 316.51,260.35 317.68,260.67 319.00,261.50 319.66,262.06 320.37,262.72 321.10,263.47 321.85,264.32 322.61,265.25 323.37,266.24 324.10,267.30 324.60,268.09 325.11,268.92 325.61,269.80 326.11,270.71 326.61,271.66 327.10,272.63 327.60,273.63 328.10,274.64 328.60,275.67 329.10,276.70 329.52,277.57 329.93,278.46 330.35,279.36 330.76,280.28 331.18,281.21 331.59,282.15 332.01,283.10 332.43,284.07 332.84,285.04 333.26,286.02 333.68,287.01 334.10,288.00 334.49,288.94 334.88,289.92 335.27,290.92 335.67,291.94 336.06,292.98 336.45,294.02 336.85,295.04 337.24,296.06 337.63,297.05 338.03,298.01 338.42,298.92 338.81,299.79 339.20,300.60 339.77,301.68 340.34,302.67 340.92,303.60 341.49,304.46 342.07,305.27 342.63,306.04 343.17,306.78 343.70,307.50 344.20,308.20 344.90,309.18 345.56,310.06 346.17,310.86 346.78,311.62 347.38,312.39 348.00,313.20 348.63,314.10 349.27,315.06 349.90,316.02 350.53,316.92 351.17,317.70 351.80,318.30 353.11,318.93 354.43,319.07 355.60,319.00 356.93,318.29 358.10,317.80 358.93,318.51 359.76,319.63 360.60,320.30 361.46,319.95 362.34,319.15 363.20,318.80 364.13,319.43 365.06,320.50 365.70,321.30 366.33,320.43 366.97,320.00 367.60,319.38 368.23,318.90 368.87,318.94 369.50,318.30 370.12,319.16 370.75,319.03 371.38,320.23 372.00,320.30 372.62,319.58 373.25,319.17 373.88,318.58 374.50,317.50 375.00,318.80 375.50,318.88 376.00,320.20 376.70,319.52 377.40,319.30 378.10,319.10 378.80,318.20 379.48,318.37 380.16,319.09 380.84,320.13 381.52,320.01 382.20,320.90 383.10,320.33 384.00,319.82 384.90,319.50 385.95,320.21 387.00,320.60 387.68,320.55 388.36,319.43 389.04,319.50 389.72,319.05 390.40,318.40 391.10,319.15 391.80,319.35 392.50,320.13 393.20,320.20 393.60,320.78 394.00,321.52 394.40,322.06 394.80,323.25 395.20,323.68 395.60,324.19 396.00,325.10 396.90,324.15 397.80,323.80 398.75,323.30 399.70,322.40 400.15,323.17 400.60,323.94 401.05,324.32 401.50,325.10 401.97,325.86 402.43,326.32 402.90,327.40 403.35,326.91 403.80,325.62 404.25,325.35 404.70,324.70 405.47,325.23 406.23,325.46 407.00,325.60 407.77,324.64 408.53,324.16 409.30,323.80 410.20,324.01 411.10,323.60 411.87,324.23 412.63,324.94 413.40,325.10 414.10,325.91 414.80,326.00 415.50,326.88 416.20,327.00 416.56,328.03 416.92,328.49 417.28,329.34 417.64,329.89 418.00,331.10 418.63,331.78 419.27,333.04 419.90,333.40 420.44,333.68 420.98,334.74 421.52,334.97 422.06,335.96 422.60,336.60 422.86,337.37 423.11,338.13 423.37,338.90 423.62,339.67 423.88,340.43 424.13,341.20 424.39,341.97 424.64,342.73 424.90,343.50 425.16,342.73 425.41,341.97 425.67,341.20 425.92,340.43 426.18,339.67 426.43,338.90 426.69,338.13 426.94,337.37 427.20,336.60 427.46,335.83 427.71,335.07 427.97,334.30 428.22,333.53 428.48,332.77 428.73,332.00 428.99,331.23 429.24,330.47 429.50,329.70 429.88,328.77 430.25,327.85 430.62,326.93 431.00,326.00" fill="none" stroke="#0000ff" stroke-width="1.10" stroke-linejoin="round" stroke-linecap="butt" />
<polyline points="52.75,276.70 52.94,276.26 53.21,275.54 53.52,274.75 53.86,274.09 54.19,273.77 54.50,274.00 54.59,274.24 54.68,274.58 54.78,275.02 54.87,275.53 54.96,276.11 55.05,276.74 55.15,277.41 55.24,278.11 55.33,278.82 55.42,279.52 55.52,280.21 55.61,280.87 55.69,281.49 55.78,282.06 55.87,282.56 55.95,282.97 56.04,283.30 56.12,283.51 56.20,283.60 56.29,283.56 56.37,283.41 56.45,283.14 56.52,282.78 56.60,282.33 56.67,281.82 56.74,281.24 56.81,280.62 56.89,279.96 56.96,279.28 57.03,278.60 57.10,277.92 57.18,277.25 57.25,276.61 57.33,276.02 57.41,275.48 57.50,275.00 57.62,274.43 57.73,273.87 57.85,273.32 57.97,272.77 58.10,271.41 58.22,271.87 58.35,270.82 58.48,271.09 58.62,270.70 58.76,268.47 58.90,267.89 59.05,270.14 59.20,267.93 59.50,267.27 59.81,269.23 60.14,267.15" fill="none" stroke="#ff00ff" stroke-width="1.15" stroke-linejoin="round" stroke-linecap="butt" />
<polyline points="59.81,269.23 60.14,267.15 60.48,267.99 60.83,266.53 61.17,266.76 61.50,264.88 61.93,266.01 62.33,266.39 62.74,264.95 63.22,265.28 63.80,264.65 64.18,262.44 64.59,264.38 65.03,263.55 65.50,262.32 65.98,261.15 66.48,263.52 66.98,261.96 67.49,262.47 68.00,262.71 68.46,261.96 68.92,262.40 69.40,260.50 69.88,261.60 70.36,260.25 70.86,261.63 71.36,261.26 71.86,258.57 72.38,258.51 72.90,258.59 73.38,260.83 73.87,258.98 74.37,259.44 74.87,258.25 75.38,258.77 75.89,258.24 76.41,258.00 76.93,258.62 77.45,258.49 77.98,259.40 78.50,258.58 79.03,259.27 79.56,258.94 80.10,259.29 80.64,258.18 81.18,256.48 81.72,258.64 82.26,258.90 82.80,258.65 83.34,257.52 83.87,257.93 84.40,256.28 84.92,258.22 85.43,257.37 85.94,256.42 86.45,255.70 86.95,258.22 87.45,258.64 87.95,255.75 88.46,258.02 88.97,256.76 89.48,255.91 90.00,256.34 90.53,257.83 91.06,258.14 91.60,255.46 92.14,257.26 92.68,255.40 93.22,257.52 93.76,256.24 94.30,257.95 94.84,258.21 95.37,256.61 95.90,258.10 96.42,255.78 96.93,254.92 97.44,256.46 97.95,254.49 98.45,254.87 98.96,255.38 99.46,255.86 99.97,254.23 100.47,253.69 100.98,256.15 101.50,254.20 101.98,256.10 102.46,255.74 102.94,253.92 103.42,254.01 103.91,254.03 104.39,254.25 104.88,253.91 105.37,253.61 105.85,253.61 106.34,254.43 106.82,252.84 107.30,252.38 107.78,253.08 108.25,251.30 108.73,251.27 109.20,253.19 109.68,251.48 110.15,251.30 110.62,249.32 111.10,250.35 111.57,250.60 112.05,248.53 112.52,250.16 113.00,249.92 113.44,247.83 113.88,249.38 114.31,248.60 114.74,249.02 115.17,247.70 115.61,248.56 116.04,248.38 116.48,245.80 116.93,245.63 117.38,247.28 117.85,247.88 118.32,245.26 118.80,245.56 119.18,245.71 119.56,244.54 119.95,244.38 120.35,243.90 120.75,243.75 121.15,244.15 121.56,242.86 121.97,242.77 122.39,243.68 122.80,240.95 123.22,242.33 123.64,242.51 124.05,240.79 124.47,240.16 124.88,241.67 125.29,239.51 125.70,239.00 126.09,239.47 126.47,239.98 126.87,237.75 127.26,238.13 127.66,237.84 128.06,239.11" fill="none" stroke="#ff00ff" stroke-width="1.60" stroke-linejoin="round" stroke-linecap="butt" />
<polyline points="128.06,239.11 128.45,237.52 128.85,238.50 129.24,236.02 129.64,236.21 130.03,236.85 130.41,237.22 130.79,235.56 131.17,234.55 131.54,233.90 131.90,234.78 132.25,233.44 132.60,234.90 132.98,234.59 133.35,232.30 133.72,232.18 134.07,233.29 134.42,232.42 134.77,232.47 135.10,230.78 135.44,229.78 135.77,229.82 136.09,230.78 136.41,228.95 136.73,228.75 137.05,228.52 137.37,228.12 137.68,227.68 138.00,228.59 138.31,226.20 138.62,225.40 138.93,227.39 139.23,226.81 139.52,226.67 139.82,224.87 140.11,225.73 140.40,225.26 140.69,223.11 140.98,223.96 141.26,223.75 141.55,222.89 141.83,222.11 142.12,221.12 142.41,220.79 142.70,220.07 142.96,219.29 143.22,220.06 143.48,218.94 143.74,219.69 144.00,217.54 144.26,219.01 144.51,218.10 144.77,218.15 145.03,217.63 145.29,217.17 145.54,216.01 145.80,214.34 146.05,215.42 146.31,213.74 146.56,213.53 146.81,213.81 147.05,213.04 147.30,212.32 147.52,212.95 147.74,211.83 147.95,210.83 148.17,210.20 148.38,210.93 148.60,209.71 148.81,209.82 149.02,208.54 149.23,207.78 149.44,207.92 149.65,207.94 149.85,206.32 150.06,206.92 150.27,206.65 150.47,205.97 150.68,205.51 150.88,203.71 151.09,204.24 151.29,204.13 151.50,202.41 151.72,202.27 151.93,201.79 152.15,201.68 152.36,201.05 152.58,200.63 152.79,200.56 153.01,199.04 153.22,198.64 153.43,198.26 153.64,197.79 153.85,197.25 154.06,197.87 154.27,197.24 154.48,195.88 154.69,195.88 154.89,195.21 155.10,194.74 155.30,194.31 155.50,194.15 155.71,193.60 155.92,192.90 156.13,192.27 156.34,191.93 156.55,191.29 156.76,191.19 156.96,190.85 157.17,190.12 157.37,189.43 157.57,189.05 157.77,188.73 157.97,188.41 158.16,188.05 158.35,187.31 158.55,187.08 158.73,186.48 158.92,185.87 159.10,185.33 159.26,184.93 159.42,184.56 159.58,183.95 159.74,183.59 159.89,183.01 160.05,182.44 160.20,182.06" fill="none" stroke="#ff00ff" stroke-width="1.45" stroke-linejoin="round" stroke-linecap="butt" />
<polyline points="159.89,183.01 160.05,182.44 160.20,182.06 160.35,181.62 160.50,180.91 160.64,180.53 160.79,180.03 160.93,179.66 161.07,179.16 161.21,178.51 161.35,178.12 161.48,177.59 161.62,176.98 161.75,176.51 161.87,175.95 162.00,175.54 162.12,175.04 162.23,174.59 162.34,174.10 162.45,173.62 162.55,173.15 162.66,172.67 162.76,172.19 162.85,171.74 162.95,171.26 163.05,170.79 163.14,170.32 163.23,169.84 163.33,169.35 163.42,168.86 163.52,168.37 163.61,167.86 163.71,167.35 163.80,166.83 163.90,166.30 164.00,165.75 164.10,165.20 164.18,164.74 164.27,164.28 164.35,163.80 164.44,163.32 164.53,162.83 164.62,162.33 164.70,161.82 164.79,161.31 164.88,160.80 164.97,160.28 165.06,159.76 165.15,159.23 165.24,158.71 165.33,158.18 165.41,157.65 165.50,157.12 165.59,156.59 165.67,156.07 165.76,155.54 165.84,155.02 165.92,154.51 166.00,153.99 166.08,153.49 166.15,152.98 166.23,152.49 166.30,152.00 166.38,151.48 166.45,150.96 166.52,150.45 166.59,149.94 166.65,149.44 166.72,148.94 166.78,148.44 166.84,147.95 166.90,147.46 166.96,146.97 167.02,146.48 167.08,145.99 167.13,145.50 167.19,145.01 167.25,144.52 167.30,144.03 167.36,143.54 167.42,143.04 167.48,142.54 167.54,142.04 167.60,141.54 167.67,141.03 167.73,140.52 167.80,140.00 167.86,139.52 167.93,139.03 168.00,138.54 168.06,138.05 168.13,137.55 168.20,137.05 168.27,136.55 168.34,136.04 168.41,135.53 168.48,135.03 168.56,134.52 168.63,134.01 168.70,133.50 168.77,132.99 168.84,132.48 168.92,131.97 168.99,131.47 169.06,130.96 169.13,130.45 169.20,129.95 169.27,129.45 169.34,128.95 169.40,128.46 169.47,127.97 169.54,127.48 169.60,127.00 169.67,126.48 169.74,125.97 169.80,125.47 169.87,124.98 169.93,124.49 170.00,124.00 170.06,123.52 170.12,123.04 170.18,122.56 170.25,122.08 170.31,121.60 170.37,121.12 170.43,120.64 170.49,120.16 170.55,119.68 170.61,119.19 170.67,118.69 170.73,118.19 170.79,117.68 170.85,117.16 170.91,116.64 170.98,116.10 171.04,115.56 171.10,115.00 171.15,114.55 171.20,114.10 171.25,113.64 171.30,113.19 171.36,112.73 171.41,112.27 171.46,111.81 171.51,111.35 171.57,110.88 171.62,110.41 171.67,109.93 171.72,109.46 171.78,108.97 171.83,108.49 171.88,108.00 171.93,107.51 171.98,107.01 172.04,106.50 172.09,106.00 172.14,105.48 172.19,104.96 172.24,104.44 172.28,103.91 172.33,103.37 172.38,102.82 172.43,102.27 172.47,101.72 172.51,101.15 172.56,100.58 172.60,100.00 172.63,99.56 172.66,99.11 172.69,98.65 172.72,98.18 172.75,97.71 172.78,97.22 172.81,96.73 172.84,96.24 172.87,95.74 172.89,95.23 172.92,94.72 172.95,94.21 172.98,93.69 173.00,93.17 173.03,92.65 173.06,92.12 173.08,91.59 173.11,91.06 173.13,90.53 173.16,90.00 173.18,89.47 173.21,88.94 173.23,88.41 173.25,87.88 173.28,87.35 173.30,86.83 173.32,86.31 173.35,85.79 173.37,85.28 173.39,84.77 173.41,84.26 173.43,83.76 173.46,83.27 173.48,82.78 173.50,82.29 173.52,81.82 173.54,81.35 173.56,80.89 173.58,80.44 173.60,80.00 173.63,79.42 173.65,78.85 173.68,78.29 173.70,77.73 173.72,77.19 173.75,76.65 173.77,76.12 173.79,75.59 173.81,75.07 173.83,74.56 173.85,74.05 173.87,73.54 173.89,73.05 173.91,72.55 173.93,72.06 173.95,71.58 173.97,71.09 173.99,70.62 174.00,70.14 174.02,69.67 174.04,69.20 174.06,68.73 174.08,68.26 174.09,67.79 174.11,67.33 174.13,66.86 174.15,66.40 174.16,65.93 174.18,65.47 174.20,65.00 174.22,64.46 174.24,63.93 174.26,63.40 174.28,62.88 174.30,62.36 174.32,61.84 174.34,61.33 174.35,60.82 174.37,60.31 174.39,59.81 174.41,59.31 174.43,58.81 174.44,58.31 174.46,57.82 174.48,57.33 174.50,56.84 174.52,56.35 174.53,55.86 174.55,55.38 174.57,54.89 174.59,54.41 174.61,53.92 174.63,53.44 174.66,52.96 174.68,52.48 174.70,52.00 174.73,51.48 174.75,50.95 174.78,50.42 174.80,49.89 174.83,49.36 174.86,48.82 174.88,48.29 174.91,47.76 174.94,47.23 174.97,46.70 175.00,46.18 175.03,45.66 175.05,45.14 175.08,44.63 175.11,44.13 175.14,43.63 175.18,43.14 175.21,42.66 175.24,42.19 175.27,41.73 175.30,41.28 175.33,40.84 175.37,40.41 175.40,40.00 175.46,39.35 175.52,38.72 175.58,38.09 175.65,37.48 175.72,36.89 175.79,36.32 175.86,35.77 175.93,35.24 176.00,34.74 176.06,34.28 176.12,33.84 176.17,33.45 176.22,33.09 176.27,32.77 176.30,32.50 176.36,33.14 176.43,33.97 176.53,34.95 176.63,36.08 176.73,37.31 176.82,38.63 176.90,40.00 176.94,40.84 176.97,41.73 177.00,42.66 177.03,43.63 177.06,44.63 177.08,45.66 177.11,46.70 177.14,47.76 177.17,48.82 177.21,49.89 177.25,50.95 177.30,52.00 177.35,52.96 177.41,53.92 177.47,54.89 177.53,55.86 177.60,56.84 177.66,57.82 177.74,58.81 177.81,59.81 177.88,60.82 177.96,61.84 178.04,62.88 178.12,63.93 178.20,65.00 178.27,65.94 178.34,66.88 178.42,67.84 178.50,68.80 178.58,69.78 178.66,70.76 178.74,71.75 178.82,72.75 178.91,73.76 178.99,74.78 179.07,75.80 179.16,76.84 179.24,77.88 179.32,78.94 179.40,80.00 179.47,80.95 179.54,81.90 179.61,82.87 179.67,83.84 179.74,84.82 179.80,85.81 179.87,86.81 179.94,87.81 180.00,88.82 180.07,89.83 180.14,90.85 180.21,91.87 180.28,92.89 180.36,93.91 180.44,94.94 180.52,95.97 180.60,97.00 180.68,97.98 180.76,98.98 180.85,100.00 180.93,101.03 181.02,102.07 181.11,103.11 181.20,104.16 181.29,105.21 181.38,106.25 181.48,107.29 181.57,108.32 181.67,109.33 181.77,110.33 181.87,111.32 181.98,112.28 182.08,113.21 182.19,114.12 182.30,115.00 182.46,116.17 182.62,117.29 182.78,118.36 182.95,119.40 183.13,120.41 183.30,121.39 183.48,122.35 183.67,123.30 183.85,124.24 184.04,125.17 184.22,126.11 184.41,127.05 184.60,128.00 184.80,129.04 185.01,130.08 185.22,131.12 185.43,132.15 185.64,133.17 185.86,134.19 186.07,135.19 186.29,136.19 186.51,137.16 186.74,138.13 186.97,139.07 187.20,140.00 187.48,141.09 187.77,142.16 188.07,143.22 188.37,144.25 188.67,145.27 188.98,146.26 189.29,147.23 189.59,148.18 189.90,149.10 190.20,150.00 190.57,151.07 190.94,152.06 191.30,153.01 191.66,153.93 192.03,154.83 192.41,155.75 192.80,156.70 193.20,157.70 193.57,158.63 193.95,159.58 194.34,160.55 194.74,161.54 195.15,162.53 195.56,163.53 195.97,164.52 196.38,165.52 196.80,166.50 197.22,167.48 197.65,168.47 198.08,169.46 198.52,170.46 198.96,171.44 199.40,172.43 199.83,173.40 200.27,174.36 200.70,175.30 201.18,176.34 201.66,177.38 202.13,178.39 202.61,179.40 203.08,180.39 203.55,181.38 204.03,182.34 204.50,183.30 204.98,184.25 205.46,185.21 205.95,186.15 206.43,187.08 206.91,187.99 207.39,188.87 207.85,189.71 208.30,190.50 208.87,191.46 209.40,192.31 209.92,193.11 210.44,193.90 211.00,194.71 211.60,195.60 212.17,196.45 212.78,197.37 213.41,198.32 214.05,199.27 214.69,200.19 215.31,201.05 215.90,201.80 216.65,202.69 217.35,203.45 218.03,204.12 218.73,204.72 219.50,205.30 220.35,205.87 221.26,206.42 222.19,206.90 223.12,207.31 224.00,207.60 225.02,207.79 225.98,207.82 226.96,207.74 228.00,207.60 229.11,207.39 230.26,207.09 231.48,206.74 232.80,206.40 233.75,206.17 234.75,205.92 235.79,205.67 236.86,205.42 237.93,205.20 239.00,205.00 240.08,204.83 241.20,204.67 242.32,204.52 243.43,204.41 244.50,204.33 245.50,204.30 246.60,204.32 247.61,204.40 248.57,204.53 249.52,204.70 250.50,204.90 251.50,205.12 252.50,205.38 253.50,205.67 254.50,206.01 255.50,206.40 256.50,206.85 257.50,207.35 258.49,207.90 259.49,208.48 260.50,209.10 261.35,209.64 262.20,210.21 263.05,210.81 263.90,211.43 264.75,212.06 265.60,212.70 266.44,213.35 267.27,214.01 268.10,214.68 268.93,215.37 269.76,216.08 270.60,216.80 271.45,217.55 272.30,218.31 273.15,219.09 274.00,219.89 274.85,220.69 275.70,221.50 276.42,222.20 277.13,222.90 277.84,223.62 278.56,224.33 279.27,225.06 279.98,225.78 280.70,226.50 281.42,227.23 282.15,227.97 282.87,228.72 283.60,228.96 284.33,230.57 285.07,230.27 285.80,231.03 286.64,231.82 287.47,233.66 288.31,233.41 289.16,233.91 290.05,235.77 291.00,235.47 291.86,237.08 292.76,237.41 293.68,238.21 294.63,238.94 295.61,238.99 296.60,239.89 297.60,239.45 298.49,241.06 299.41,241.34 300.34,242.28 301.29,242.09 302.24,243.64 303.20,244.52 304.15,243.87 305.10,244.75 306.06,245.54 307.05,246.32 308.06,245.88 309.06,246.13 310.04,246.54 310.98,247.34 311.87,247.80 312.70,247.55 313.95,247.87 315.13,248.20 316.18,248.37 317.06,248.65 317.70,248.32 318.27,249.47 318.83,250.79 319.40,250.46 319.97,251.56 320.53,251.19 321.10,252.61 321.67,253.28 322.23,253.71 322.80,254.00 323.30,254.66 323.80,255.23 324.30,256.12 324.80,257.16 325.30,256.59 325.80,257.13 326.30,258.81 326.80,259.71 327.30,259.70 327.80,260.30 328.31,260.84 328.82,261.91 329.33,261.69 329.84,262.45 330.35,262.97 330.86,264.22 331.37,264.41 331.88,264.91 332.39,266.28 332.90,266.60 333.35,268.01 333.81,267.64 334.26,268.97 334.72,269.19 335.17,270.57 335.63,270.83 336.08,271.00 336.54,271.60 336.99,271.97 337.45,273.39 337.90,274.10 338.41,274.55 338.92,274.86 339.43,275.80 339.94,276.38 340.45,277.74 340.96,277.37 341.47,279.37 341.98,279.19 342.49,280.02 343.00,280.50 343.76,280.19 344.52,280.52 345.28,280.23 346.04,279.55 346.80,279.20 347.14,279.97 347.47,281.15 347.81,282.17 348.15,282.24 348.48,283.57 348.82,284.74 349.15,284.75 349.49,285.17 349.83,285.98 350.16,287.55 350.50,288.00 351.45,287.98 352.40,288.13 353.35,287.67 354.30,286.80 354.67,287.10 355.04,287.73 355.41,288.56 355.79,289.16 356.16,290.70 356.53,291.66 356.90,291.80 357.32,291.72 357.73,289.97 358.15,290.23 358.57,288.63 358.98,288.09 359.40,287.50 360.03,288.37 360.67,287.84 361.30,288.35 361.93,290.03 362.57,289.67 363.20,290.50 363.82,290.92 364.45,291.93 365.07,292.73 365.70,293.10 366.05,291.57 366.39,291.36 366.74,290.79 367.08,290.13 367.43,288.95 367.77,288.82 368.12,288.67 368.46,287.03 368.81,286.54 369.15,285.13 369.50,285.00 369.92,285.36 370.33,286.70 370.75,286.53 371.17,288.49 371.58,289.24 372.00,289.30 372.36,287.83 372.71,288.35 373.07,286.61 373.43,286.42 373.79,285.57 374.14,284.00 374.50,283.50 374.80,284.53 375.10,285.25 375.40,286.24 375.70,286.12 376.00,287.66 376.30,288.00 376.75,288.01 377.20,286.83 377.65,285.88 378.10,285.10 378.38,285.23 378.67,286.59 378.95,287.11 379.23,288.45 379.52,289.14 379.80,289.71 380.08,289.84 380.37,291.33 380.65,292.06 380.93,292.09 381.22,293.97 381.50,294.10 381.85,293.47 382.20,291.75 382.55,292.17 382.90,290.60 383.29,290.81 383.67,291.90 384.06,293.31 384.44,293.90 384.83,294.62 385.21,295.55 385.60,296.10 386.12,295.18 386.65,294.10 387.18,293.03 387.70,292.70 388.09,291.22 388.47,291.47 388.86,290.75 389.24,289.63 389.63,289.15 390.01,287.76 390.40,287.20 390.96,287.51 391.52,288.37 392.08,289.84 392.64,289.19 393.20,290.60 393.41,291.38 393.62,291.75 393.84,293.36 394.05,293.47 394.26,294.21 394.48,295.10 394.69,296.09 394.90,297.23 395.11,297.34 395.32,298.91 395.54,298.50 395.75,299.53 395.96,300.03 396.18,300.83 396.39,302.67 396.60,303.00 396.79,302.58 396.97,300.94 397.16,300.16 397.35,299.75 397.53,299.49 397.72,298.83 397.91,297.94 398.09,296.91 398.28,295.41 398.47,295.04 398.65,293.93 398.84,293.68 399.03,292.97 399.21,291.60 399.40,291.30 399.61,291.72 399.82,293.39 400.04,293.00 400.25,295.06 400.46,296.02 400.68,296.93 400.89,296.84 401.10,297.93 401.31,298.80 401.52,299.70 401.74,301.07 401.95,301.42 402.16,301.62 402.38,303.34 402.59,303.56 402.80,304.40 402.98,303.74 403.15,303.13 403.32,301.15 403.50,301.56 403.68,300.57 403.85,299.47 404.03,298.71 404.20,297.79 404.38,296.54 404.55,296.26 404.73,294.65 404.90,294.58 405.08,293.99 405.25,292.85 405.43,292.22 405.60,291.30 406.60,292.38 407.60,292.00 408.04,291.94 408.48,290.04 408.91,290.41 409.35,289.45 409.79,287.84 410.23,287.65 410.66,286.76 411.10,286.50 411.79,286.41 412.47,287.73 413.16,288.94 413.84,288.56 414.53,290.02 415.21,290.33 415.90,290.60 416.09,290.84 416.27,292.83 416.46,293.24 416.65,294.59 416.83,295.08 417.02,295.94 417.21,296.14 417.39,297.70 417.58,298.73 417.77,299.45 417.95,299.59 418.14,300.93 418.33,301.32 418.51,301.55 418.70,303.00 418.90,303.10 419.10,303.98 419.30,305.01 419.50,305.78 419.70,307.15 419.90,308.30 420.10,308.87 420.30,309.52 420.50,310.71 420.70,311.30 420.82,311.80 420.93,312.86 421.05,313.73 421.17,314.53 421.28,315.34 421.40,316.15 421.52,316.96 421.63,317.77 421.75,318.57 421.87,319.38 421.98,320.19 422.10,321.00 422.19,321.82 422.29,322.64 422.38,323.46 422.47,324.29 422.56,325.11 422.66,325.93 422.75,326.75 422.84,327.57 422.94,328.39 423.03,329.21 423.12,330.04 423.21,330.86 423.31,331.68 423.40,332.50 423.42,333.33 423.44,334.17 423.46,335.00 423.48,335.83 423.50,336.67 423.52,337.50 423.54,338.33 423.56,339.17 423.58,340.00 423.60,340.83 423.62,341.67 423.64,342.50 423.66,343.33 423.68,344.17 423.70,345.00 423.70,345.81 423.70,346.61 423.70,347.42 423.71,348.23 423.71,349.03 423.71,349.84 423.71,350.65 423.71,351.45 423.71,352.26 423.72,353.06 423.72,353.87 423.72,354.68 423.72,355.48 423.72,356.29 423.72,357.10 423.73,357.90 423.73,358.71 423.73,359.52 423.73,360.32 423.73,361.13 423.73,361.94 423.74,362.74 423.74,363.55 423.74,364.35 423.74,365.16 423.74,365.97 423.74,366.77 423.75,367.58 423.75,368.39 423.75,369.19 423.75,370.00 423.75,370.81 423.75,371.61 423.75,372.42 423.76,373.23 423.76,374.03 423.76,374.84 423.76,375.65 423.76,376.45 423.76,377.26 423.77,378.06 423.77,378.87 423.77,379.68 423.77,380.48 423.77,381.29 423.77,382.10 423.78,382.90 423.78,383.71 423.78,384.52 423.78,385.32 423.78,386.13 423.78,386.94 423.79,387.74 423.79,388.55 423.79,389.35 423.79,390.16 423.79,390.97 423.79,391.77 423.80,392.58 423.80,393.39 423.80,394.19 423.80,395.00" fill="none" stroke="#ff00ff" stroke-width="1.25" stroke-linejoin="round" stroke-linecap="butt" />
<polyline points="426.40,395.00 426.50,345.00 427.00,330.00 427.70,315.00 429.00,300.00 429.50,296.00 430.50,290.00" fill="none" stroke="#ff00ff" stroke-width="1.00" stroke-linejoin="round" stroke-linecap="butt" />
</g>
<g stroke="#000" stroke-width="1.00" fill="none" stroke-linecap="butt">
<rect x="52.50" y="9.50" width="377.00" height="378.00"/>
<path d="M66.46 387.50V376.50M66.46 9.50V20.50M101.37 387.50V381.80M101.37 9.50V15.20M136.28 387.50V376.50M136.28 9.50V20.50M171.19 387.50V381.80M171.19 9.50V15.20M206.09 387.50V376.50M206.09 9.50V20.50M241.00 387.50V381.80M241.00 9.50V15.20M275.91 387.50V376.50M275.91 9.50V20.50M310.81 387.50V381.80M310.81 9.50V15.20M345.72 387.50V376.50M345.72 9.50V20.50M380.63 387.50V381.80M380.63 9.50V15.20M415.54 387.50V376.50M415.54 9.50V20.50M52.50 47.24H58.20M429.50 47.24H423.80M52.50 37.74H58.20M429.50 37.74H423.80M52.50 30.99H58.20M429.50 30.99H423.80M52.50 25.76H58.20M429.50 25.76H423.80M52.50 21.48H58.20M429.50 21.48H423.80M52.50 17.86H58.20M429.50 17.86H423.80M52.50 14.73H58.20M429.50 14.73H423.80M52.50 11.97H58.20M429.50 11.97H423.80M52.50 63.50H63.50M429.50 63.50H418.50M52.50 101.24H58.20M429.50 101.24H423.80M52.50 91.74H58.20M429.50 91.74H423.80M52.50 84.99H58.20M429.50 84.99H423.80M52.50 79.76H58.20M429.50 79.76H423.80M52.50 75.48H58.20M429.50 75.48H423.80M52.50 71.86H58.20M429.50 71.86H423.80M52.50 68.73H58.20M429.50 68.73H423.80M52.50 65.97H58.20M429.50 65.97H423.80M52.50 117.50H63.50M429.50 117.50H418.50M52.50 155.24H58.20M429.50 155.24H423.80M52.50 145.74H58.20M429.50 145.74H423.80M52.50 138.99H58.20M429.50 138.99H423.80M52.50 133.76H58.20M429.50 133.76H423.80M52.50 129.48H58.20M429.50 129.48H423.80M52.50 125.86H58.20M429.50 125.86H423.80M52.50 122.73H58.20M429.50 122.73H423.80M52.50 119.97H58.20M429.50 119.97H423.80M52.50 171.50H63.50M429.50 171.50H418.50M52.50 209.24H58.20M429.50 209.24H423.80M52.50 199.74H58.20M429.50 199.74H423.80M52.50 192.99H58.20M429.50 192.99H423.80M52.50 187.76H58.20M429.50 187.76H423.80M52.50 183.48H58.20M429.50 183.48H423.80M52.50 179.86H58.20M429.50 179.86H423.80M52.50 176.73H58.20M429.50 176.73H423.80M52.50 173.97H58.20M429.50 173.97H423.80M52.50 225.50H63.50M429.50 225.50H418.50M52.50 263.24H58.20M429.50 263.24H423.80M52.50 253.74H58.20M429.50 253.74H423.80M52.50 246.99H58.20M429.50 246.99H423.80M52.50 241.76H58.20M429.50 241.76H423.80M52.50 237.48H58.20M429.50 237.48H423.80M52.50 233.86H58.20M429.50 233.86H423.80M52.50 230.73H58.20M429.50 230.73H423.80M52.50 227.97H58.20M429.50 227.97H423.80M52.50 279.50H63.50M429.50 279.50H418.50M52.50 317.24H58.20M429.50 317.24H423.80M52.50 307.74H58.20M429.50 307.74H423.80M52.50 300.99H58.20M429.50 300.99H423.80M52.50 295.76H58.20M429.50 295.76H423.80M52.50 291.48H58.20M429.50 291.48H423.80M52.50 287.86H58.20M429.50 287.86H423.80M52.50 284.73H58.20M429.50 284.73H423.80M52.50 281.97H58.20M429.50 281.97H423.80M52.50 333.50H63.50M429.50 333.50H418.50M52.50 371.24H58.20M429.50 371.24H423.80M52.50 361.74H58.20M429.50 361.74H423.80M52.50 354.99H58.20M429.50 354.99H423.80M52.50 349.76H58.20M429.50 349.76H423.80M52.50 345.48H58.20M429.50 345.48H423.80M52.50 341.86H58.20M429.50 341.86H423.80M52.50 338.73H58.20M429.50 338.73H423.80M52.50 335.97H58.20M429.50 335.97H423.80"/>
</g>
<text transform="translate(67.16,403.50) scale(0.960,1.040)" font-size="15.60" text-anchor="middle" >5000</text>
<text transform="translate(136.98,403.50) scale(0.960,1.040)" font-size="15.60" text-anchor="middle" >6000</text>
<text transform="translate(206.79,403.50) scale(0.960,1.040)" font-size="15.60" text-anchor="middle" >7000</text>
<text transform="translate(276.61,403.50) scale(0.960,1.040)" font-size="15.60" text-anchor="middle" >8000</text>
<text transform="translate(346.42,403.50) scale(0.960,1.040)" font-size="15.60" text-anchor="middle" >9000</text>
<text transform="translate(416.84,403.50) scale(0.960,1.040)" font-size="15.60" text-anchor="middle" >10000</text>
<text transform="translate(47.30,8.50) scale(0.960,1.040)" font-size="10.40" text-anchor="end" >-4</text>
<text transform="translate(39.13,17.60) scale(0.960,1.040)" font-size="15.60" text-anchor="end" >10</text>
<text transform="translate(47.30,62.50) scale(0.960,1.040)" font-size="10.40" text-anchor="end" >-5</text>
<text transform="translate(39.13,71.60) scale(0.960,1.040)" font-size="15.60" text-anchor="end" >10</text>
<text transform="translate(47.30,116.50) scale(0.960,1.040)" font-size="10.40" text-anchor="end" >-6</text>
<text transform="translate(39.13,125.60) scale(0.960,1.040)" font-size="15.60" text-anchor="end" >10</text>
<text transform="translate(47.30,170.50) scale(0.960,1.040)" font-size="10.40" text-anchor="end" >-7</text>
<text transform="translate(39.13,179.60) scale(0.960,1.040)" font-size="15.60" text-anchor="end" >10</text>
<text transform="translate(47.30,224.50) scale(0.960,1.040)" font-size="10.40" text-anchor="end" >-8</text>
<text transform="translate(39.13,233.60) scale(0.960,1.040)" font-size="15.60" text-anchor="end" >10</text>
<text transform="translate(47.30,278.50) scale(0.960,1.040)" font-size="10.40" text-anchor="end" >-9</text>
<text transform="translate(39.13,287.60) scale(0.960,1.040)" font-size="15.60" text-anchor="end" >10</text>
<text transform="translate(47.30,332.50) scale(0.960,1.040)" font-size="10.40" text-anchor="end" >-10</text>
<text transform="translate(34.14,341.60) scale(0.960,1.040)" font-size="15.60" text-anchor="end" >10</text>
<text transform="translate(47.30,386.50) scale(0.960,1.040)" font-size="10.40" text-anchor="end" >-11</text>
<text transform="translate(34.14,395.60) scale(0.960,1.040)" font-size="15.60" text-anchor="end" >10</text>
<text transform="translate(223.70,435.70) scale(0.960,1.040)" font-size="16.60" text-anchor="start" >λ</text>
<text transform="translate(239.60,435.70) scale(0.960,1.040)" font-size="15.20" text-anchor="start" >(Å)</text>
<g transform="translate(12.0,204.3) rotate(-90)"><text transform="translate(0.00,0.00) scale(0.960,1.040)" font-size="16.60" text-anchor="start" >I</text><text transform="translate(5.80,5.20) scale(0.960,1.040)" font-size="12.50" text-anchor="start" >ν</text></g>
<text transform="translate(299.50,48.30) scale(0.960,0.960)" font-size="15.60" text-anchor="start" >N</text>
<text transform="translate(310.60,54.00) scale(0.960,1.040)" font-size="11.00" text-anchor="start" >H</text>
<text transform="translate(318.00,48.90) scale(0.960,1.040)" font-size="7.00" text-anchor="start" >+</text>
<text transform="translate(324.60,48.30) scale(1.050,1.040)" font-size="15.60" text-anchor="start" >=</text>
<text transform="translate(337.90,48.30) scale(0.960,1.040)" font-size="15.60" text-anchor="start" >10</text>
<text transform="translate(353.50,39.40) scale(0.960,1.040)" font-size="11.00" text-anchor="start" >15</text>
<text transform="translate(367.00,48.30) scale(0.960,1.040)" font-size="16.07" text-anchor="start" >cm</text>
<text transform="translate(386.40,40.10) scale(0.960,1.040)" font-size="11.00" text-anchor="start" >-3</text>
<line x1="268.00" y1="74.60" x2="290.00" y2="74.60" stroke="#ff00ff" stroke-width="1" stroke-opacity="0.85"/>
<text transform="translate(300.50,80.40) scale(0.960,0.960)" font-size="15.60" text-anchor="start" >N</text>
<text transform="translate(311.60,86.10) scale(0.960,1.040)" font-size="11.00" text-anchor="start" >H</text>
<text transform="translate(326.50,80.40) scale(1.020,1.040)" font-size="15.60" text-anchor="start" >=</text>
<text transform="translate(339.90,80.40) scale(0.960,1.040)" font-size="15.60" text-anchor="start" >10</text>
<text transform="translate(354.60,71.50) scale(0.960,1.040)" font-size="11.00" text-anchor="start" >18</text>
<line x1="268.00" y1="102.50" x2="290.00" y2="102.50" stroke="#0000ff" stroke-width="1" stroke-opacity="0.85"/>
<text transform="translate(300.50,108.30) scale(0.960,0.960)" font-size="15.60" text-anchor="start" >N</text>
<text transform="translate(311.60,114.00) scale(0.960,1.040)" font-size="11.00" text-anchor="start" >H</text>
<text transform="translate(326.50,108.30) scale(1.020,1.040)" font-size="15.60" text-anchor="start" >=</text>
<text transform="translate(339.90,108.30) scale(0.960,1.040)" font-size="15.60" text-anchor="start" >10</text>
<text transform="translate(354.60,99.40) scale(0.960,1.040)" font-size="11.00" text-anchor="start" >17</text>
<line x1="268.00" y1="130.30" x2="290.00" y2="130.30" stroke="#00ff00" stroke-width="1" stroke-opacity="0.85"/>
<text transform="translate(300.50,136.20) scale(0.960,0.960)" font-size="15.60" text-anchor="start" >N</text>
<text transform="translate(311.60,141.90) scale(0.960,1.040)" font-size="11.00" text-anchor="start" >H</text>
<text transform="translate(326.50,136.20) scale(1.020,1.040)" font-size="15.60" text-anchor="start" >=</text>
<text transform="translate(339.90,136.20) scale(0.960,1.040)" font-size="15.60" text-anchor="start" >10</text>
<text transform="translate(354.60,127.30) scale(0.960,1.040)" font-size="11.00" text-anchor="start" >16</text>
<line x1="268.00" y1="158.20" x2="290.00" y2="158.20" stroke="#ff0000" stroke-width="1" stroke-opacity="0.85"/>
<text transform="translate(300.50,164.00) scale(0.960,0.960)" font-size="15.60" text-anchor="start" >N</text>
<text transform="translate(311.60,169.70) scale(0.960,1.040)" font-size="11.00" text-anchor="start" >H</text>
<text transform="translate(326.50,164.00) scale(1.020,1.040)" font-size="15.60" text-anchor="start" >=</text>
<text transform="translate(339.90,164.00) scale(0.960,1.040)" font-size="15.60" text-anchor="start" >10</text>
<text transform="translate(354.60,155.10) scale(0.960,1.040)" font-size="11.00" text-anchor="start" >15</text>
<line x1="268.00" y1="181.60" x2="290.00" y2="181.60" stroke="#000000" stroke-width="1" stroke-opacity="0.85"/>
<text transform="translate(300.50,185.10) scale(0.960,0.960)" font-size="15.60" text-anchor="start" >N</text>
<text transform="translate(311.60,190.80) scale(0.960,1.040)" font-size="11.00" text-anchor="start" >H</text>
<text transform="translate(326.50,185.10) scale(1.020,1.040)" font-size="15.60" text-anchor="start" >=</text>
<text transform="translate(339.90,185.10) scale(0.960,1.040)" font-size="15.60" text-anchor="start" >0</text>
</svg>
</body></html>
